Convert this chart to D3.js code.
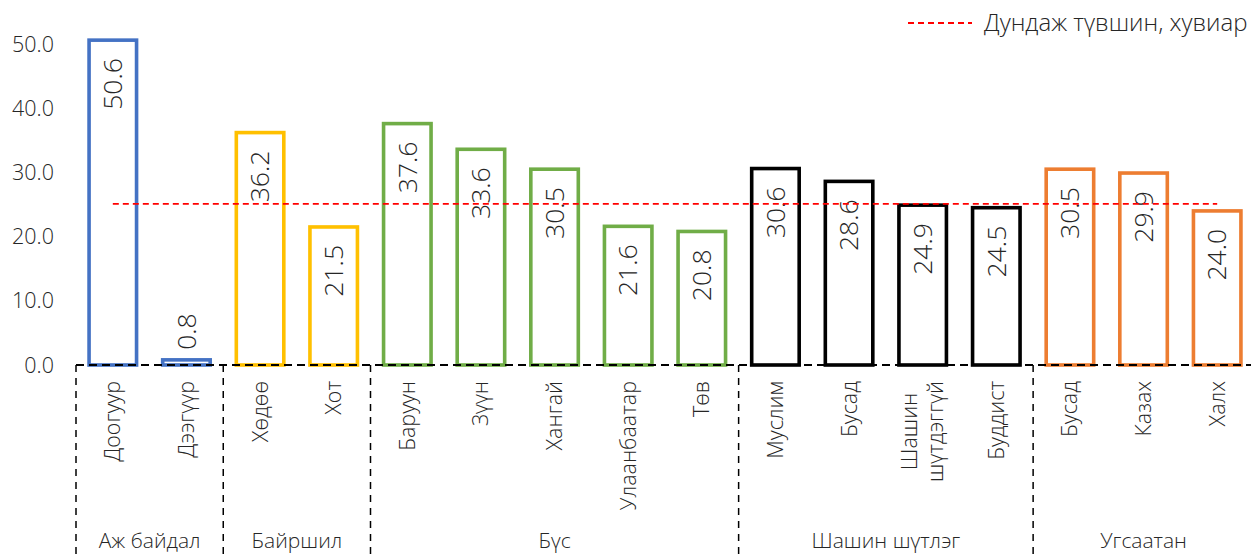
<!DOCTYPE html>
<html><head><meta charset="utf-8">
<script src="https://cdn.jsdelivr.net/npm/d3@7"></script>
<style>body{margin:0;background:#fff}svg{display:block}</style>
</head><body>
<svg id="chart" width="1251" height="554"></svg>
<script>
const categories = ["Доогуур","Дээгүүр","Хөдөө","Хот","Баруун","Зүүн","Хангай","Улаанбаатар","Төв","Муслим","Бусад","Шашин\nшүтдэггүй","Буддист","Бусад","Казах","Халх"];
const values = [50.6,0.8,36.2,21.5,37.6,33.6,30.5,21.6,20.8,30.6,28.6,24.9,24.5,30.5,29.9,24.0];
const groups = ["Аж байдал","Байршил","Бүс","Шашин шүтлэг","Угсаатан"];
const groupSizes = [2,2,5,4,3];
const groupColors = ["#4472C4","#FFC000","#70AD47","#000000","#ED7D31"];
const average = 25.1;
const legendLabel = "Дундаж түвшин, хувиар";
const yTicks = [0,10,20,30,40,50];

const font = "'Open Sans', sans-serif";
const textColor = "#262626";
const svg = d3.select("#chart");

const idx = d3.range(categories.length);
const x = d3.scaleBand().domain(idx).range([76,1254]).paddingInner(0.355).paddingOuter(0.1775);
const y = d3.scaleLinear().domain([0,50]).range([365,44]);

const groupOf = [];
groupSizes.forEach((n,g)=>{for(let k=0;k<n;k++) groupOf.push(g);});
const boundary = i => x.range()[0] + i*x.step();
const cx = i => x(i) + x.bandwidth()/2;

// y tick labels
svg.append("g").selectAll("text").data(yTicks).join("text")
  .attr("x",54).attr("y",d=>y(d)).attr("dy","0.35em")
  .attr("text-anchor","end").attr("font-family",font).attr("font-weight",300)
  .attr("font-size",21.5).attr("fill",textColor).text(d=>d3.format(".1f")(d));

// bars
svg.append("g").selectAll("rect").data(idx).join("rect")
  .attr("x",i=>x(i)).attr("width",x.bandwidth())
  .attr("y",i=>y(values[i])).attr("height",i=>y(0)-y(values[i]))
  .attr("fill","#fff").attr("stroke",i=>groupColors[groupOf[i]]).attr("stroke-width",3.6);

// value labels
const vl = svg.append("g").selectAll("text").data(idx).join("text")
  .attr("font-family",font).attr("font-weight",300).attr("font-size",26.5)
  .attr("fill",textColor).attr("dy","0.35em").text(i=>d3.format(".1f")(values[i]));
vl.each(function(i){
  const len = this.getComputedTextLength();
  const h = y(0)-y(values[i]);
  const el = d3.select(this);
  if (h > len + 25) {
    el.attr("text-anchor","end").attr("transform",`translate(${cx(i)},${y(values[i])+18}) rotate(-90)`);
  } else {
    el.attr("text-anchor","start").attr("transform",`translate(${cx(i)},${y(values[i])-10}) rotate(-90)`);
  }
});

// average line
svg.append("line").attr("x1",cx(0)).attr("x2",cx(categories.length-1))
  .attr("y1",y(average)).attr("y2",y(average))
  .attr("stroke","#FF0000").attr("stroke-width",1.8).attr("stroke-dasharray","6,4");

// x axis dashed line
svg.append("line").attr("x1",boundary(0)).attr("x2",1251).attr("y1",y(0)).attr("y2",y(0))
  .attr("stroke","#000").attr("stroke-width",2).attr("stroke-dasharray","8,5");

// group separators
const bIdx = [0]; groupSizes.reduce((a,n)=>{bIdx.push(a+n);return a+n;},0);
svg.append("g").selectAll("line").data(bIdx).join("line")
  .attr("x1",i=>boundary(i)).attr("x2",i=>boundary(i))
  .attr("y1",y(0)).attr("y2",554)
  .attr("stroke","#000").attr("stroke-width",1.5).attr("stroke-dasharray","7,6");

// category labels
const cl = svg.append("g").selectAll("text").data(idx).join("text")
  .attr("font-family",font).attr("font-weight",300).attr("font-size",21.5).attr("fill",textColor);
cl.each(function(i){
  const lines = categories[i].split("\n");
  const el = d3.select(this);
  if (lines.length === 1) {
    el.attr("text-anchor","end").attr("dy","0.35em")
      .attr("transform",`translate(${cx(i)},381) rotate(-90)`).text(lines[0]);
  } else {
    el.attr("text-anchor","middle");
    lines.forEach((ln,k)=>{
      el.append("tspan").attr("x",0).attr("dy", k===0 ? `${0.35-(lines.length-1)*0.6}em` : "1.2em").text(ln);
    });
    let maxLen = 0;
    el.selectAll("tspan").each(function(){maxLen=Math.max(maxLen,this.getComputedTextLength());});
    el.attr("transform",`translate(${cx(i)},${381+maxLen/2}) rotate(-90)`);
  }
});

// group labels
svg.append("g").selectAll("text").data(groups).join("text")
  .attr("x",(g,k)=>(boundary(bIdx[k])+boundary(bIdx[k+1]))/2).attr("y",548)
  .attr("text-anchor","middle").attr("font-family",font).attr("font-weight",300)
  .attr("font-size",21).attr("fill",textColor).text(d=>d);

// legend
svg.append("line").attr("x1",908).attr("x2",972).attr("y1",23).attr("y2",23)
  .attr("stroke","#FF0000").attr("stroke-width",1.8).attr("stroke-dasharray","6,4");
svg.append("text").attr("x",984).attr("y",23).attr("dy","0.35em")
  .attr("font-family",font).attr("font-weight",300).attr("font-size",24).attr("fill",textColor)
  .text(legendLabel);
</script>
</body></html>
